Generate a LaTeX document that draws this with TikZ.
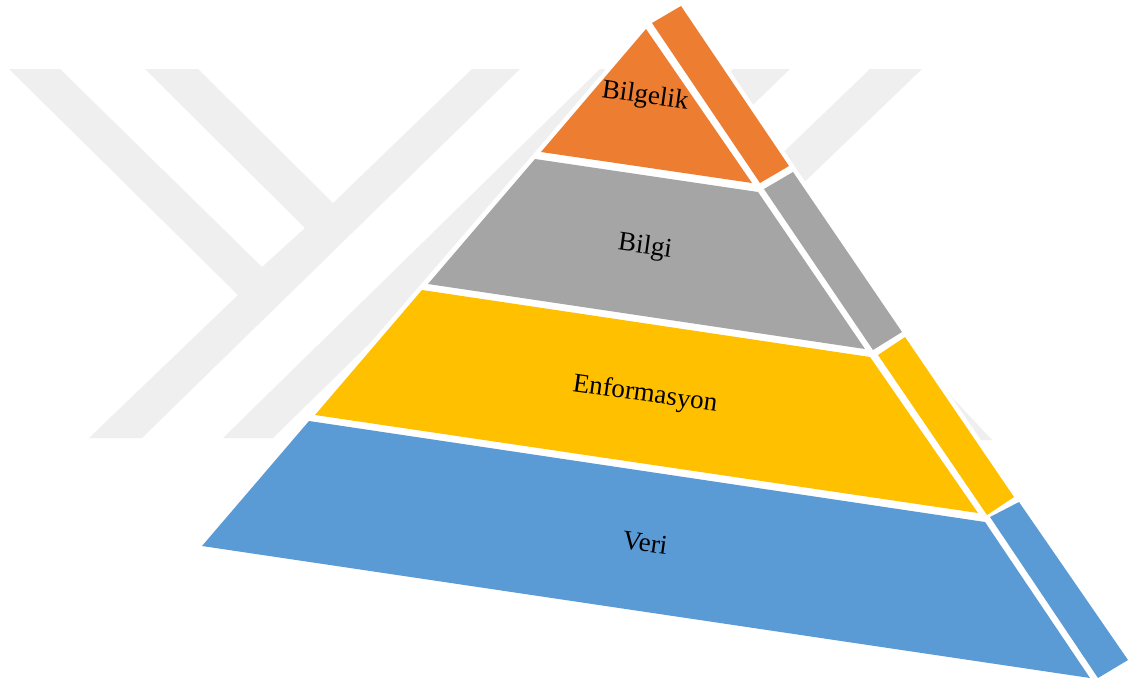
\documentclass[tikz,border=0pt]{standalone}
\usepackage{fontspec}
\setmainfont{Liberation Serif}
\definecolor{wisdom}{HTML}{ED7D31}
\definecolor{knowledge}{HTML}{A5A5A5}
\definecolor{information}{HTML}{FFC000}
\definecolor{data}{HTML}{5B9BD5}
\definecolor{wmgray}{HTML}{EFEFEF}
\begin{document}
\begin{tikzpicture}[x=1pt,y=-1pt,
  halo/.style={fill=white,draw=white,line width=9pt,line join=round},
  levellabel/.style={font=\fontsize{27}{32}\selectfont,rotate=-8,inner sep=0pt,text=black}]
\useasboundingbox[fill=white] (0,0) rectangle (1133,681);

% faint logo in the background
\fill[wmgray] (9,69) -- (60,69) -- (262,267) -- (305,228) -- (145,69) -- (198,69)
  -- (333,203) -- (472,69) -- (520,69) -- (142,438) -- (89,438) -- (238,295) -- cycle;
\fill[wmgray] (223,438) -- (273,438) -- (650,69) -- (600,69) -- cycle;
\fill[wmgray] (733,69) -- (790,69) -- (644,210) -- (587,210) -- cycle;
\fill[wmgray] (870,69) -- (922,69) -- (714,269) -- (662,269) -- cycle;
\fill[wmgray] (960,440) -- (992,440) -- (880,320) -- (848,320) -- cycle;

% white margin around the pyramid
\path[halo] (646,29) -- (652,23) -- (681,6) -- (789,166) -- (902,332) -- (1014,497)
  -- (1128,660) -- (1098,678) -- (1090,678) -- (202,546) -- (309,421) -- (422,290)
  -- (535,159) -- (541,152) -- cycle;

% pyramid levels: front faces and side faces
\fill[wisdom] (646,29) -- (752,183) -- (541,152) -- cycle;
\fill[wisdom] (652,23) -- (681,6) -- (789,166) -- (760,183) -- cycle;

\fill[knowledge] (535,159) -- (758,192) -- (865,349) -- (428,284) -- cycle;
\fill[knowledge] (764,189) -- (793,172) -- (902,332) -- (873,350) -- cycle;

\fill[information] (422,290) -- (870,357) -- (978,513) -- (315,415) -- cycle;
\fill[information] (878,355) -- (905,337) -- (1014,497) -- (987,515) -- cycle;

\fill[data] (309,421) -- (985,522) -- (1090,678) -- (202,546) -- cycle;
\fill[data] (990,517) -- (1019,502) -- (1128,660) -- (1098,678) -- cycle;

% level names
\node[levellabel] (wisdomlbl) at (645,97) {Bilgelik};
\node[levellabel] (knowledgelbl) at (645,247) {Bilgi};
\node[levellabel] (informationlbl) at (645,395) {Enformasyon};
\node[levellabel] (datalbl) at (645,543) {Veri};
\end{tikzpicture}
\end{document}
